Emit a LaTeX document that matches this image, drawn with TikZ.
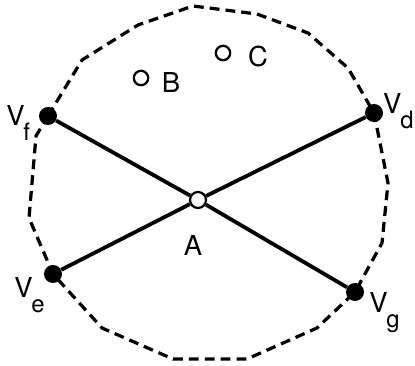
\documentclass[tikz,border=0pt]{standalone}
\usepackage{fontspec}
\setmainfont{TeX Gyre Heros}
\newcommand{\vlab}[1]{V\kern-0.04em\raisebox{-11pt}{\fontsize{17}{18}\selectfont #1}}

\begin{document}
\begin{tikzpicture}[x=0.025cm, y=-0.025cm,
  vtx/.style={circle, fill, inner sep=0pt, minimum size=0.45cm},
  pnt/.style={circle, draw, fill=white, line width=1.6pt, inner sep=0pt, minimum size=0.36cm},
  lab/.style={inner sep=0pt, font=\fontsize{19.5}{22}\selectfont},
  edge/.style={line width=2.7pt},
  rim/.style={line width=2.3pt, dash pattern=on 7pt off 4.3pt}]
  \useasboundingbox (0,0) rectangle (415,366);
  \node[vtx] (Vf) at (48,116) {};
  \node[vtx] (Vd) at (374,113) {};
  \node[vtx] (Ve) at (53,274) {};
  \node[vtx] (Vg) at (355,292) {};
  \node[pnt, minimum size=0.4cm] (pA) at (198,200) {};
  \node[pnt] (pB) at (141,78) {};
  \node[pnt] (pC) at (223,53) {};
  % the dashed boundary through the four vertices
  \draw[rim] (Vf.center) -- (82,60) -- (138,25) -- (193,6) -- (257,14)
    -- (308,33) -- (348,68) -- (Vd.center) -- (388,183) -- (382,243)
    -- (Vg.center) -- (317,328) -- (247,359) -- (173,359) -- (102,328)
    -- (Ve.center) -- (29,218) -- (36,136) -- cycle;
  \draw[edge] (Vf) -- (pA);
  \draw[edge] (pA) -- (Vg);
  \draw[edge] (Ve) -- (pA);
  \draw[edge] (pA) -- (Vd);
  \node[lab, anchor=north west] at (6,105) {\vlab{f}};
  \node[lab, anchor=north east] at (414,93) {\vlab{d}};
  \node[lab, anchor=north west] at (14,277) {\vlab{e}};
  \node[lab, anchor=north west] at (369,292) {\vlab{g}};
  \node[lab] at (193,246) {A};
  \node[lab] at (171,83) {B};
  \node[lab] at (258,57) {C};
\end{tikzpicture}
\end{document}
